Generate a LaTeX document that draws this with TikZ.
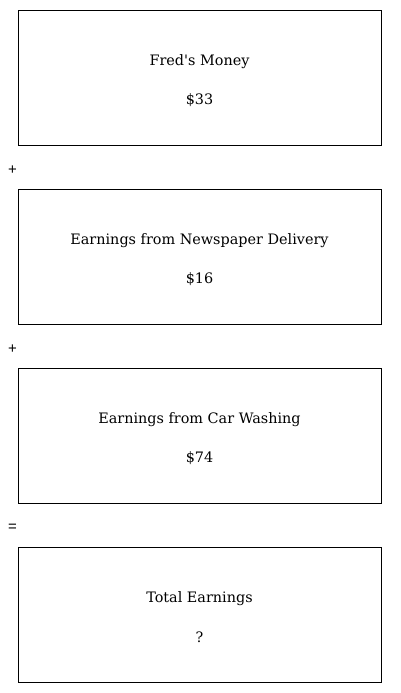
\documentclass[tikz,border=0pt]{standalone}
\usepackage{fontspec}
\setmainfont{DejaVu Serif}
\newfontfamily\opfont{Liberation Sans}
\begin{document}
\begin{tikzpicture}[x=1pt,y=-1pt,
  box/.style={draw,line width=0.8pt},
  lbl/.style={font=\fontsize{14.4}{16}\selectfont,inner sep=0pt,anchor=center},
  op/.style={font=\opfont\fontsize{15}{17}\selectfont,inner sep=0pt,anchor=center}]
\useasboundingbox (0,0) rectangle (400,693);
\foreach \i/\t/\v [count=\k from 0] in {0/{Fred\textquotesingle s Money}/{\$33},1/{Earnings from Newspaper Delivery}/{\$16},2/{Earnings from Car Washing}/{\$74},3/{Total Earnings}/{?}}{
  \pgfmathsetmacro\yo{179*\k}
  \draw[box] (18,10+\yo) rectangle (381,145+\yo);
  \node[lbl] (t\k) at (199.5,61.5+\yo) {\t};
  \node[lbl] (v\k) at (199.5,100+\yo) {\v};
}
\node[op] (p1) at (12.5,170) {+};
\node[op] (p2) at (12.5,349) {+};
\node[op] (e1) at (12.5,527.5) {=};
\end{tikzpicture}
\end{document}
